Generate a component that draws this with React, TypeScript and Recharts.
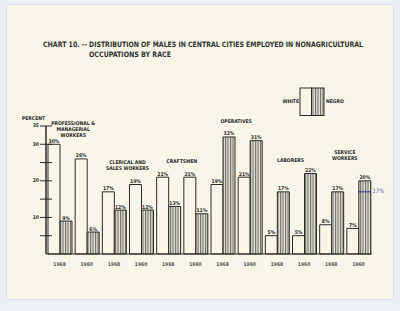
import React from 'react';
import {
  BarChart,
  Bar,
  XAxis,
  YAxis,
  LabelList,
  Legend,
  ReferenceDot,
} from 'recharts';

// 12 bar groups: each occupation has a 1968 and a 1960 pair
const groupKeys = ['P68', 'P60', 'C68', 'C60', 'K68', 'K60', 'O68', 'O60', 'L68', 'L60', 'S68', 'S60'];
const yearLabels = ['1968', '1960', '1968', '1960', '1968', '1960', '1968', '1960', '1968', '1960', '1968', '1960'];
const whiteShare = [30, 26, 17, 19, 21, 21, 19, 21, 5, 5, 8, 7];
const negroShare = [9, 6, 12, 12, 13, 11, 32, 31, 17, 22, 17, 20];

const occupations = [
  ['PROFESSIONAL &', 'MANAGERIAL', 'WORKERS'],
  ['CLERICAL AND', 'SALES WORKERS'],
  ['CRAFTSMEN'],
  ['OPERATIVES'],
  ['LABORERS'],
  ['SERVICE', 'WORKERS'],
];

const yTicks = [0, 5, 10, 15, 20, 25, 30, 35];
const yTickLabels = ['', '', '10', '', '20', '', '30', '35'];

// handwritten correction on the last bar
const penNote = { key: 'S60', value: 17, text: '17%' };

// where the occupation captions sit, in percent units
const captionLevel = [35.7, 25.0, 25.5, 36.4, 25.7, 27.7];
const HALF_BAND = 13.6;

const data = groupKeys.map((key, i) => ({
  key,
  white: whiteShare[i],
  negro: negroShare[i],
}));

const INK = '#2b2b2b';
const PAPER = '#f8f6e9';
const FONT = '"DejaVu Sans Condensed", "Liberation Sans Narrow", "DejaVu Sans", sans-serif';

const YTick = (props: any) => {
  const { x, y, payload } = props;
  const idx = yTicks.indexOf(payload.value);
  const label = idx >= 0 ? yTickLabels[idx] : '';
  return (
    <g>
      {payload.value > 0 && (
        <line x1={x} x2={x + 12} y1={y} y2={y} stroke={INK} strokeWidth={1} />
      )}
      {label && (
        <text x={x - 1} y={y} textAnchor="end" dominantBaseline="middle" fontSize={5}
          fontFamily={FONT} fontWeight={700} fill={INK}>{label}</text>
      )}
    </g>
  );
};

const Caption = (lines: string[]) => (props: any) => {
  const x = props.cx + HALF_BAND;
  return (
    <text x={x} y={props.cy} textAnchor="middle" fontSize={5} fontFamily={FONT} fontWeight={700} fill={INK}>
      {lines.map((l, i) => (
        <tspan key={i} x={x} dy={i === 0 ? 1.8 : 5.8}>{l}</tspan>
      ))}
    </text>
  );
};

const PenMark = (props: any) => {
  const { cx, cy } = props;
  return (
    <g>
      <line x1={cx} x2={cx + 12.5} y1={cy} y2={cy} stroke="#2a2f8f" strokeWidth={1} />
      <text x={cx + 14} y={cy} dominantBaseline="middle" fontSize={6} fontStyle="italic"
        fontFamily={FONT} fill="#5a5fc0">{penNote.text}</text>
    </g>
  );
};

const LegendBox = () => (
  <svg width={80} height={32}>
    <text x={19} y={17} textAnchor="end" fontSize={5} fontFamily={FONT} fontWeight={700} fill={INK}>WHITE</text>
    <rect x={20} y={2} width={11.5} height={27.5} fill={PAPER} stroke={INK} strokeWidth={1} />
    <rect x={31.5} y={2} width={12.5} height={27.5} fill="url(#hatch)" stroke={INK} strokeWidth={1} />
    <text x={46} y={17} fontSize={5} fontFamily={FONT} fontWeight={700} fill={INK}>NEGRO</text>
  </svg>
);

export default function App() {
  return (
    <div style={{ position: 'absolute', left: 0, top: 0, width: 400, height: 311, background: '#eceff3', overflow: 'hidden' }}>
      <div style={{ position: 'absolute', left: 7, top: 5, width: 386, height: 294, background: PAPER, boxShadow: '0 0 2px rgba(0,0,0,0.15)' }} />
      <div style={{ position: 'absolute', left: 0, top: 0 }}>
        <BarChart width={400} height={311} data={data}
          margin={{ top: 126, right: 28, left: 26, bottom: 43 }}
          barCategoryGap={2} barGap={0}>
          <defs>
            <pattern id="hatch" width={2.5} height={4} patternUnits="userSpaceOnUse">
              <rect width={2.5} height={4} fill="#e4e1d4" />
              <rect width={1.1} height={4} fill="#6e6e6e" />
            </pattern>
          </defs>
          <XAxis dataKey="key" height={14} axisLine={{ stroke: INK, strokeWidth: 1.2 }}
            tickLine={false} interval={0} tickMargin={2}
            tickFormatter={(_v: string, i: number) => yearLabels[i]}
            tick={{ fontSize: 5, fill: '#555', fontFamily: FONT, fontWeight: 700 }} />
          <YAxis domain={[0, 35]} ticks={yTicks} width={20} interval={0}
            axisLine={{ stroke: INK, strokeWidth: 1.5 }} tickLine={false}
            tickSize={6} tickMargin={0} tick={<YTick />} />
          <Legend layout="horizontal" verticalAlign="middle" align="center"
            content={<LegendBox />}
            wrapperStyle={{ position: 'absolute', left: 280, top: 86, width: 80, height: 32 }} />
          <Bar dataKey="white" fill={PAPER} stroke={INK} strokeWidth={1} isAnimationActive={false}>
            <LabelList dataKey="white" position="top" offset={1.5} formatter={(v: any) => `${v}%`}
              style={{ fontSize: 5, fontFamily: FONT, fontWeight: 700, fill: INK }} />
          </Bar>
          <Bar dataKey="negro" fill="url(#hatch)" stroke={INK} strokeWidth={1} isAnimationActive={false}>
            <LabelList dataKey="negro" position="top" offset={1.5} formatter={(v: any) => `${v}%`}
              style={{ fontSize: 5, fontFamily: FONT, fontWeight: 700, fill: INK }} />
          </Bar>
          {occupations.map((lines, i) => (
            <ReferenceDot key={i} x={groupKeys[2 * i]} y={captionLevel[i]} r={0}
              ifOverflow="visible" shape={Caption(lines)} />
          ))}
          <ReferenceDot x={penNote.key} y={penNote.value} r={0} ifOverflow="visible" shape={PenMark} />
        </BarChart>
      </div>
      <svg width={400} height={311} style={{ position: 'absolute', left: 0, top: 0, pointerEvents: 'none' }}>
        <g fontFamily={FONT} fontWeight={700} fill="#333" fontSize={7.4}>
          <text x={43} y={47} textLength={44} lengthAdjust="spacingAndGlyphs">CHART 10. --</text>
          <text x={89} y={47} textLength={274} lengthAdjust="spacingAndGlyphs">DISTRIBUTION OF MALES IN CENTRAL CITIES EMPLOYED IN NONAGRICULTURAL</text>
          <text x={89} y={56.5} textLength={82} lengthAdjust="spacingAndGlyphs">OCCUPATIONS BY RACE</text>
        </g>
        <text x={22} y={119.5} fontSize={5} fontFamily={FONT} fontWeight={700} fill={INK}>PERCENT</text>
      </svg>
    </div>
  );
}
